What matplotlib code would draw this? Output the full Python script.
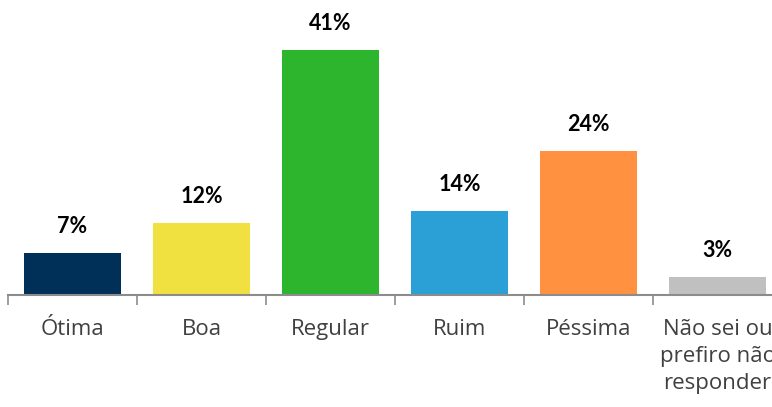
import matplotlib
matplotlib.use("Agg")
import matplotlib.pyplot as plt
import numpy as np

categories = ["Ótima", "Boa", "Regular", "Ruim", "Péssima", "Não sei ou\nprefiro não\nresponder"]
values = [7, 12, 41, 14, 24, 3]
colors = ["#003057", "#F0E040", "#2DB52D", "#2BA0D6", "#FF9140", "#C0C0C0"]

fig = plt.figure(figsize=(7.72, 4.07), dpi=100)
ax = fig.add_axes([8/772, 1 - 295/407, 774/772, 295/407])

x = np.arange(len(categories))
ax.bar(x, values, width=0.75, color=colors)

for xi, v in zip(x, values):
    ax.annotate(f"{v}%", (xi, v), xytext=(0, 11.5), textcoords="offset points",
                ha="center", va="bottom", fontsize=15.5, fontweight="bold",
                family="Lato", color="#000000")

ax.set_xlim(-0.5, len(categories) - 0.5)
ax.set_ylim(0, 49.3)
ax.set_yticks([])
ax.set_xticks(x)
ax.set_xticklabels(categories, fontsize=16, family="Open Sans", color="#404040",
                   linespacing=1.4)
ax.tick_params(axis="x", which="major", length=0, pad=17)
ax.set_xticks(np.arange(len(categories) + 1) - 0.5, minor=True)
ax.tick_params(axis="x", which="minor", length=7, width=1.2, color="#8c8c8c")

for s in ["top", "right", "left"]:
    ax.spines[s].set_visible(False)
ax.spines["bottom"].set_color("#8c8c8c")
ax.spines["bottom"].set_linewidth(1.5)

fig.savefig("out.png", dpi=100)
